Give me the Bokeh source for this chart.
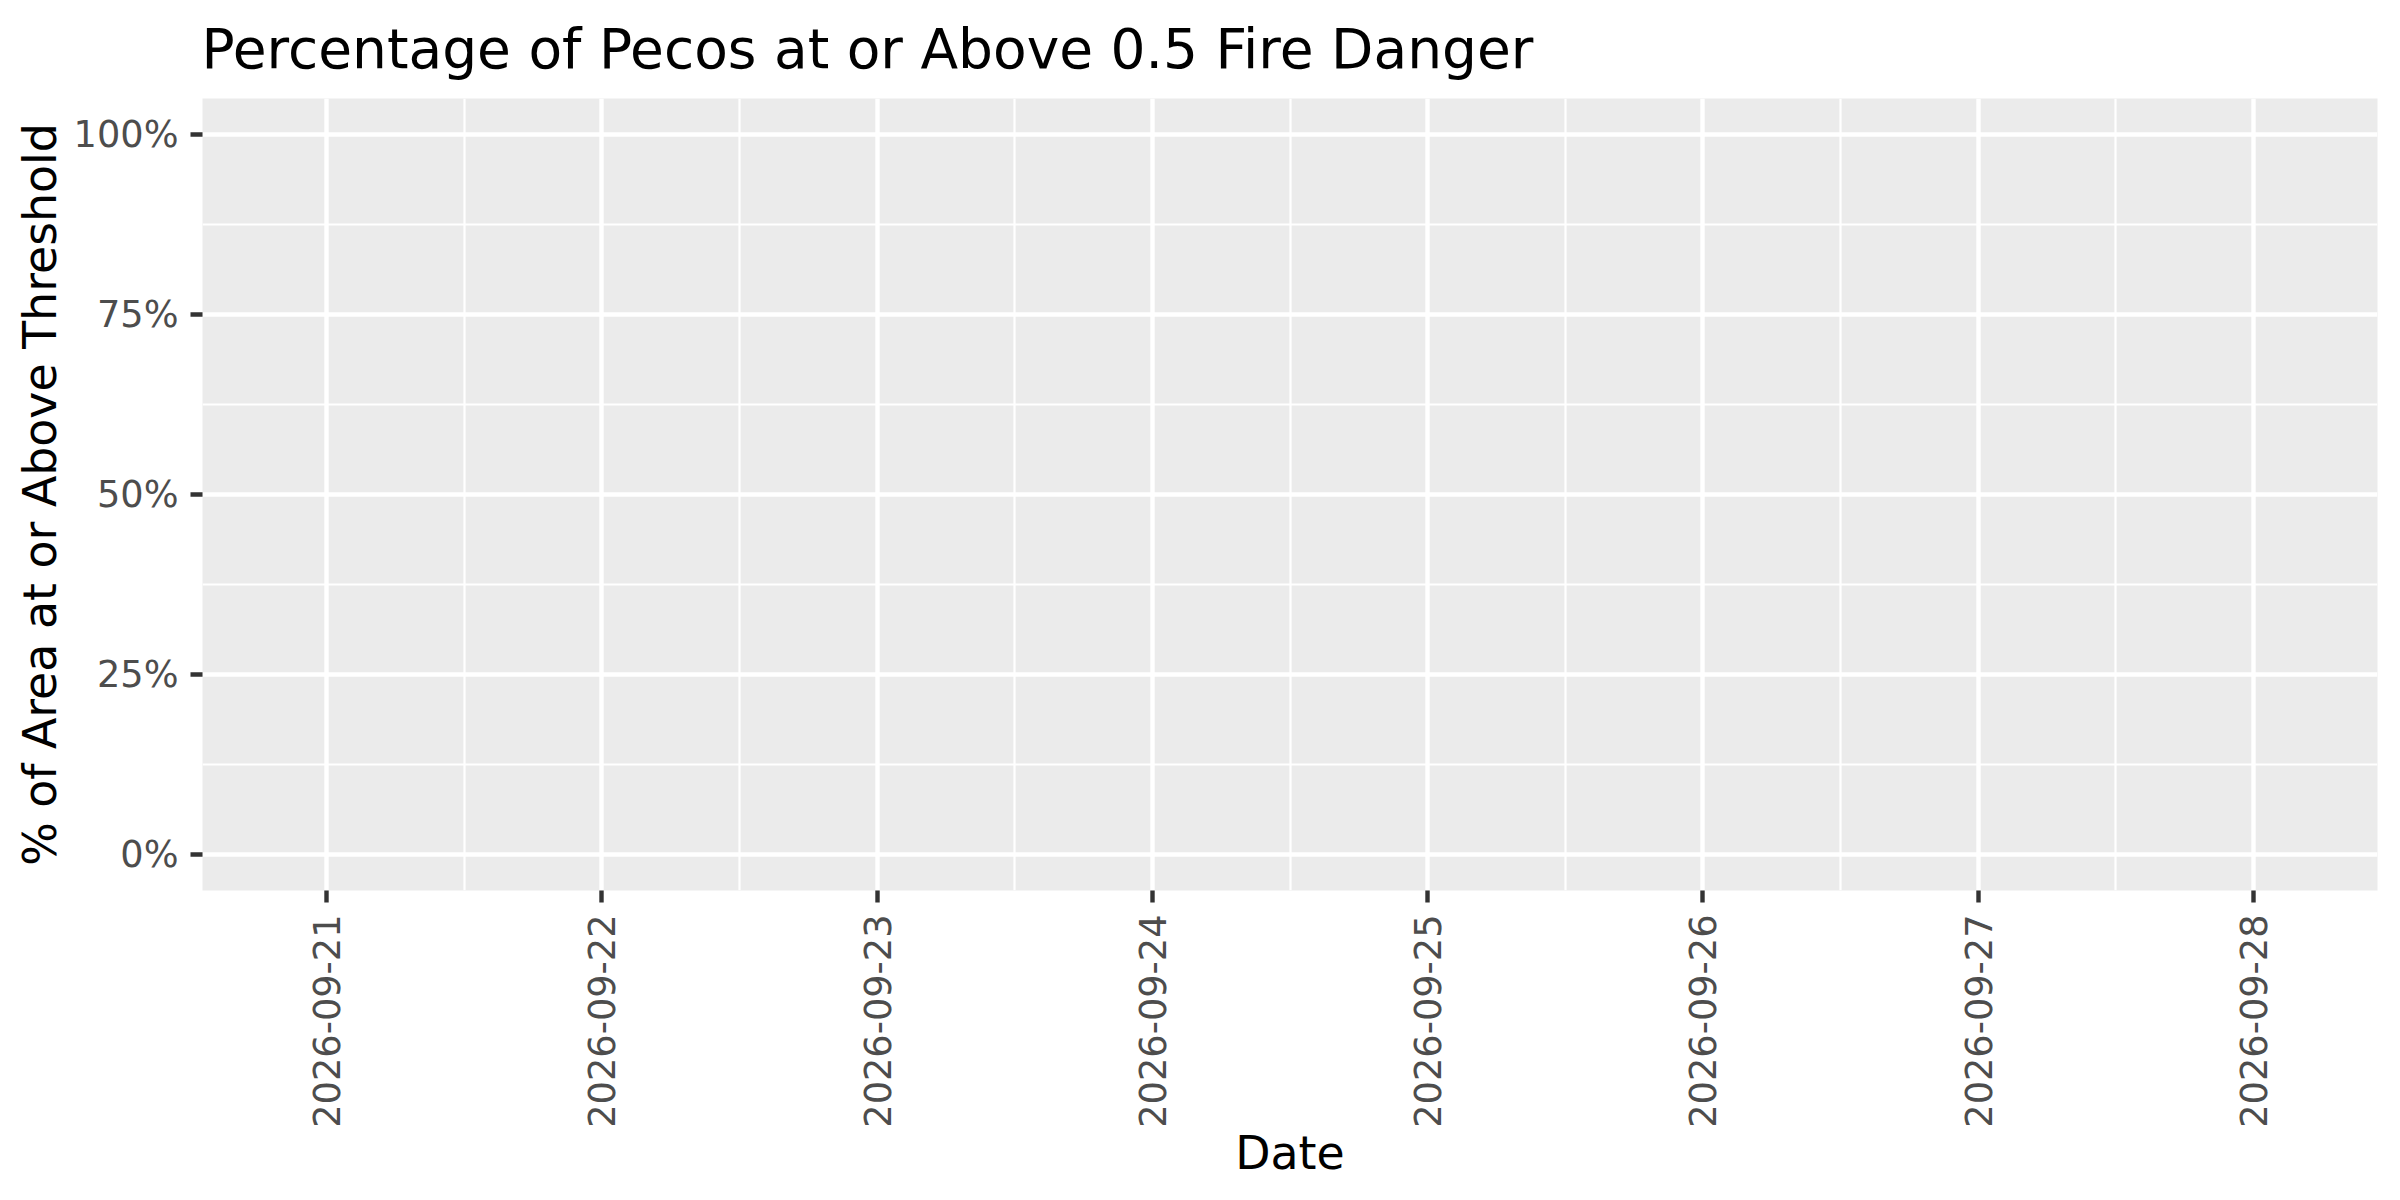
import math
from bokeh.plotting import figure
from bokeh.models import Range1d, FixedTicker, NumeralTickFormatter
from bokeh.embed import file_html
from bokeh.resources import INLINE

# ---- data ----
dates = ["2026-09-21", "2026-09-22", "2026-09-23", "2026-09-24",
         "2026-09-25", "2026-09-26", "2026-09-27", "2026-09-28"]
pct_above = [0, 0, 0, 0, 0, 0, 0, 0]
y_ticks = [0, 0.25, 0.5, 0.75, 1.0]
title_text = "Percentage of Pecos at or Above 0.5 Fire Danger"
x_title = "Date"
y_title = "% of Area at or Above Threshold"

FONT = "DejaVu Sans"
bar_w = 0.9
xs = list(range(len(dates)))

p = figure(frame_width=2175, frame_height=792,
           min_border_left=202, min_border_right=7,
           min_border_top=97, min_border_bottom=295,
           x_range=Range1d(xs[0] - bar_w / 2, xs[-1] + bar_w / 2),
           y_range=Range1d(-0.05, 1.05),
           output_backend="svg", toolbar_location=None,
           background_fill_color="#EBEBEB", border_fill_color="white")
p.outline_line_color = None

p.vbar(x=xs, top=pct_above, bottom=0, width=bar_w,
       fill_color="#595959", line_color=None)

# title
p.title.text = title_text
p.title.text_font = FONT
p.title.text_font_size = "55px"
p.title.text_font_style = "normal"
p.title.text_color = "black"
p.title.align = "left"
p.title.vertical_align = "top"
p.title.offset = -1
p.title.standoff = 32

# x axis
xa = p.xaxis[0]
xa.ticker = FixedTicker(ticks=xs, minor_ticks=[x + 0.5 for x in xs[:-1]])
xa.major_label_overrides = {i: d for i, d in enumerate(dates)}
xa.major_label_orientation = math.pi / 2
xa.axis_label = x_title

ya = p.yaxis[0]
ya.ticker = FixedTicker(ticks=y_ticks,
                        minor_ticks=[(a + b) / 2 for a, b in zip(y_ticks[:-1], y_ticks[1:])])
ya.formatter = NumeralTickFormatter(format="0%")
ya.axis_label = y_title

for ax in (xa, ya):
    ax.axis_line_color = None
    ax.major_tick_line_color = "#333333"
    ax.major_tick_line_width = 4.4
    ax.major_tick_out = 12
    ax.major_tick_in = 0
    ax.minor_tick_out = 0
    ax.minor_tick_in = 0
    ax.minor_tick_line_color = None
    ax.major_label_text_font = FONT
    ax.major_label_text_font_size = "36.7px"
    ax.major_label_text_color = "#4D4D4D"
    ax.major_label_standoff = 12
    ax.axis_label_text_font = FONT
    ax.axis_label_text_font_size = "45.8px"
    ax.axis_label_text_font_style = "normal"
    ax.axis_label_text_color = "black"
ya.axis_label_standoff = 4
xa.axis_label_standoff = -5

for g in (p.xgrid[0], p.ygrid[0]):
    g.grid_line_color = "white"
    g.grid_line_width = 4.4
    g.minor_grid_line_color = "white"
    g.minor_grid_line_width = 2.2
p.xgrid[0].ticker = xa.ticker
p.ygrid[0].ticker = ya.ticker

open("out.html", "w").write(file_html(p, INLINE))
